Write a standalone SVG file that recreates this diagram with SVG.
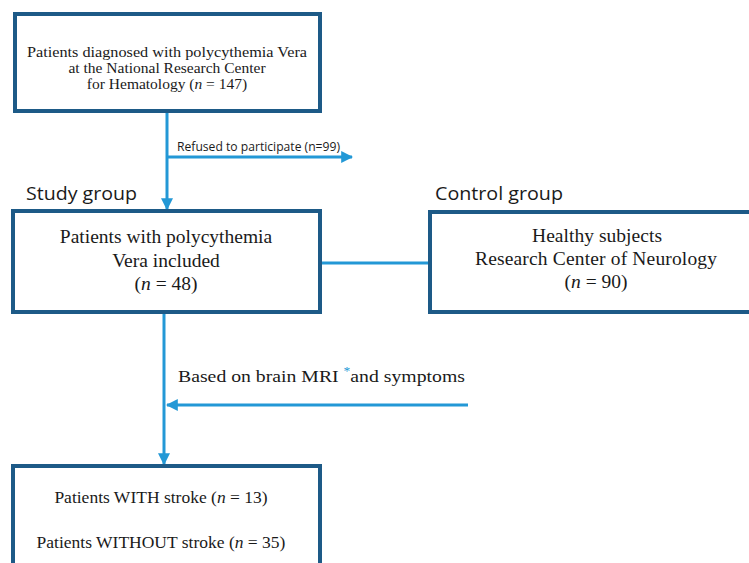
<svg xmlns="http://www.w3.org/2000/svg" width="749" height="563" viewBox="0 0 749 563">
<defs>
<style>
.box{fill:#fff;stroke:#1d5a87;stroke-width:4}
.con{fill:none;stroke:#2398d6;stroke-width:3}
.t{font-family:"Liberation Serif","Times New Roman",serif;fill:#1a1a1a;text-anchor:middle}
.s{font-family:"Open Sans","Liberation Sans",Arial,sans-serif;fill:#1a1a1a}
</style>
<marker id="ah" viewBox="0 0 10 10" refX="9" refY="5" markerWidth="4" markerHeight="4" orient="auto" markerUnits="strokeWidth">
<path d="M0,0 L10,5 L0,10 z" fill="#2398d6"/>
</marker>
</defs>
<rect width="749" height="563" fill="#fff"/>
<g id="connectors">
<path class="con" d="M167,112 V209" marker-end="url(#ah)"/>
<path class="con" d="M167,157 H352" marker-end="url(#ah)"/>
<path class="con" d="M320,263 H430"/>
<path class="con" d="M164,312 V464" marker-end="url(#ah)"/>
<path class="con" d="M468,405 H167" marker-end="url(#ah)"/>
</g>
<g id="labels">
<text class="s" x="177" y="151" font-size="12" textLength="163" lengthAdjust="spacingAndGlyphs">Refused to participate (n=99)</text>
<text class="s" x="26" y="200" font-size="19" textLength="111" lengthAdjust="spacingAndGlyphs">Study group</text>
<text class="s" x="435" y="200" font-size="19" textLength="128" lengthAdjust="spacingAndGlyphs">Control group</text>
<text class="t" x="178" y="382" font-size="17.5" style="text-anchor:start" textLength="287" lengthAdjust="spacingAndGlyphs">Based on brain MRI <tspan fill="#2398d6" dy="-7" font-size="12">*</tspan><tspan dy="7">and symptoms</tspan></text>
</g>
<g id="node-diagnosed">
<rect class="box" x="15" y="14" width="305" height="97"/>
<text class="t" font-size="15.5" x="167" y="57" textLength="280" lengthAdjust="spacingAndGlyphs">Patients diagnosed with polycythemia Vera</text>
<text class="t" font-size="15.5" x="167" y="73">at the National Research Center</text>
<text class="t" font-size="15.5" x="167" y="89">for Hematology (<tspan font-style="italic">n</tspan> = 147)</text>
</g>
<g id="node-study">
<rect class="box" x="13" y="211" width="307" height="101"/>
<text class="t" font-size="19.5" x="166" y="243">Patients with polycythemia</text>
<text class="t" font-size="19.5" x="166" y="267">Vera included</text>
<text class="t" font-size="19.5" x="166" y="290">(<tspan font-style="italic">n</tspan> = 48)</text>
</g>
<g id="node-control">
<rect class="box" x="430" y="212" width="340" height="100"/>
<text class="t" font-size="19.5" x="597" y="242" textLength="130" lengthAdjust="spacing">Healthy subjects</text>
<text class="t" font-size="19.5" x="596" y="265" textLength="242" lengthAdjust="spacing">Research Center of Neurology</text>
<text class="t" font-size="19.5" x="596" y="288">(<tspan font-style="italic">n</tspan> = 90)</text>
</g>
<g id="node-outcome">
<rect class="box" x="13" y="466" width="307" height="120"/>
<text class="t" font-size="17.5" x="161" y="503">Patients WITH stroke (<tspan font-style="italic">n</tspan> = 13)</text>
<text class="t" font-size="17.5" x="161" y="548">Patients WITHOUT stroke (<tspan font-style="italic">n</tspan> = 35)</text>
</g>
</svg>
